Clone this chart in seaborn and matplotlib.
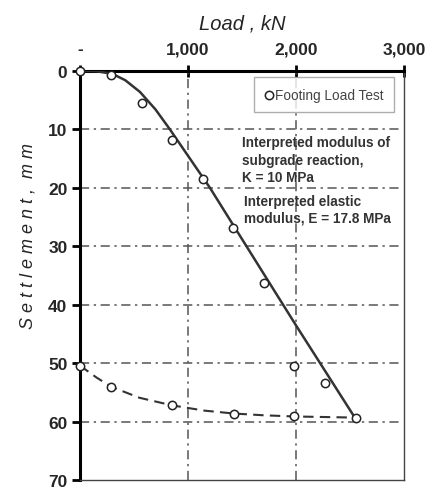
"""
Footing load test: settlement vs load, with loading and unloading curves.
"""

import pandas as pd
import seaborn as sns
import matplotlib.pyplot as plt


# measured points, loading branch then unloading branch
TEST_LOAD = [0, 287, 574, 852, 1139, 1417, 1704, 1981, 2269, 2556,
             1426, 852, 287, 0, 1981]
TEST_SETTLEMENT = [0, 0.7, 5.5, 11.8, 18.5, 26.9, 36.3, 50.4, 53.4, 59.3,
                   58.6, 57.2, 54.0, 50.4, 59.1]

# fitted loading curve (solid)
FIT_LOAD = [0, 150, 300, 420, 556, 700, 833, 1000, 1204, 1600, 2000, 2556]
FIT_SETTLEMENT = [0, 0.05, 0.5, 1.6, 3.6, 6.6, 10.0, 14.5, 20.0, 31.7, 43.5, 59.6]

# unloading curve (dashed)
UNLOAD_LOAD = [0, 150, 287, 550, 852, 1150, 1426, 1700, 1981, 2556]
UNLOAD_SETTLEMENT = [50.4, 52.4, 54.0, 55.9, 57.2, 58.1, 58.6, 58.9, 59.1, 59.3]

X_TICKS = [0, 1000, 2000, 3000]
X_TICK_LABELS = ["-", "1,000", "2,000", "3,000"]
Y_TICKS = [0, 10, 20, 30, 40, 50, 60, 70]

LINE_COLOR = "#333333"
GRID_COLOR = "#555555"


def main() -> None:
    sns.set_style("white")
    plt.rcParams["font.family"] = ["Liberation Sans", "DejaVu Sans"]

    fig = plt.figure(figsize=(4.32, 4.89), dpi=100)
    ax = fig.add_axes([0.185, 0.016, 0.75, 0.837])

    fit_df = pd.DataFrame({"load": FIT_LOAD, "settlement": FIT_SETTLEMENT})
    unload_df = pd.DataFrame({"load": UNLOAD_LOAD,
                              "settlement": UNLOAD_SETTLEMENT})
    test_df = pd.DataFrame({"load": TEST_LOAD, "settlement": TEST_SETTLEMENT})

    sns.lineplot(data=fit_df, x="load", y="settlement", sort=False,
                 color=LINE_COLOR, linewidth=1.8, ax=ax, zorder=3)
    sns.lineplot(data=unload_df, x="load", y="settlement", sort=False,
                 color=LINE_COLOR, linewidth=1.5, linestyle=(0, (5, 3)),
                 ax=ax, zorder=3)
    sns.scatterplot(data=test_df, x="load", y="settlement", marker="o",
                    s=36, facecolor="white", edgecolor="#222222",
                    linewidth=1.1, ax=ax, zorder=4, clip_on=False,
                    label="Footing Load Test")

    ax.set_xlim(0, 3000)
    ax.set_ylim(70, 0)

    for x in [1000, 2000]:
        ax.axvline(x, color=GRID_COLOR, linewidth=1.1,
                   linestyle=(0, (6, 3, 1.5, 3)), zorder=1)
    for y in [10, 20, 30, 40, 50, 60]:
        ax.plot([0, 2960], [y, y], color=GRID_COLOR, linewidth=1.1,
                linestyle=(0, (6, 3, 1.5, 3)), zorder=1)

    ax.xaxis.set_label_position("top")
    ax.xaxis.tick_top()
    ax.set_xticks(X_TICKS)
    ax.set_xticklabels(X_TICK_LABELS, fontsize=12.5, fontweight="bold")
    ax.set_yticks(Y_TICKS)
    ax.set_yticklabels([str(v) for v in Y_TICKS], fontsize=12.5,
                       fontweight="bold")
    ax.tick_params(axis="x", direction="inout", length=9, width=2,
                   color="black", pad=6)
    ax.tick_params(axis="y", direction="out", length=6, width=2,
                   color="black", pad=3, left=True)

    ax.set_xlabel("Load , kN", fontsize=14.5, fontstyle="italic", labelpad=9)
    ax.set_ylabel("S e t t l e m e n t ,  m m", fontsize=13,
                  fontstyle="italic")
    ax.yaxis.set_label_coords(-0.135, 0.6)

    for side in ["top", "left"]:
        ax.spines[side].set_linewidth(2.2)
        ax.spines[side].set_color("black")
    for side in ["bottom", "right"]:
        ax.spines[side].set_linewidth(1.0)
        ax.spines[side].set_color("#444444")

    legend = ax.legend(loc="upper right", bbox_to_anchor=(0.97, 0.984),
                       fontsize=9.8, frameon=True, fancybox=False,
                       handletextpad=0.05, borderpad=0.75,
                       handlelength=0.8, borderaxespad=0)
    legend.get_frame().set_edgecolor("#999999")
    legend.get_frame().set_linewidth(1.0)
    for text in legend.get_texts():
        text.set_color("#444444")

    ax.text(1500, 11.0,
            "Interpreted modulus of\nsubgrade reaction,\nK = 10 MPa",
            fontsize=9.8, fontweight="bold", color="#333333",
            va="top", ha="left", linespacing=1.3)
    ax.text(1520, 21.0, "Interpreted elastic\nmodulus, E = 17.8 MPa",
            fontsize=9.8, fontweight="bold", color="#333333",
            va="top", ha="left", linespacing=1.3)

    fig.savefig("out.png", dpi=100)


if __name__ == "__main__":
    main()
